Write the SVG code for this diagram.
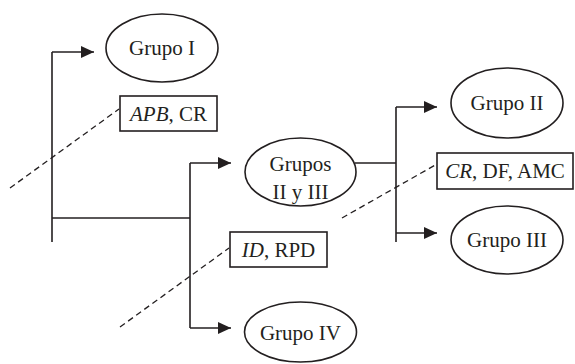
<svg xmlns="http://www.w3.org/2000/svg" width="575" height="364" viewBox="0 0 575 364">
<style>
text{font-family:"Liberation Serif","Times New Roman",serif;font-size:21px;fill:#231f20;text-anchor:middle}
.n{fill:#fff;stroke:#231f20;stroke-width:1.6}
.c{fill:none;stroke:#231f20;stroke-width:1.6}
.d{fill:none;stroke:#231f20;stroke-width:1.3;stroke-dasharray:6 4}
.a{marker-end:url(#ah)}
</style>
<defs>
<marker id="ah" markerWidth="14" markerHeight="12" refX="13" refY="6" orient="auto" markerUnits="userSpaceOnUse">
<path d="M0,0 L13,6 L0,12 Z" fill="#231f20"/>
</marker>
</defs>
<g id="connectors">
<path class="c" d="M52,242 V52"/>
<path class="c a" d="M52,52 H94"/>
<path class="c" d="M52,218 H190"/>
<path class="c" d="M190,163 V328"/>
<path class="c a" d="M190,163 H231"/>
<path class="c a" d="M190,328 H231"/>
<path class="c" d="M355,163 H396"/>
<path class="c" d="M396,107 V242"/>
<path class="c a" d="M396,107 H437"/>
<path class="c a" d="M396,233 H437"/>
<path class="d" d="M10,188 L119,109"/>
<path class="d" d="M120,327 L229,248"/>
<path class="d" d="M342,218 L437,164"/>
</g>
<g id="grupo1"><ellipse class="n" cx="162" cy="48" rx="56" ry="34"/><text x="162" y="55">Grupo I</text></g>
<g id="label-apb"><rect class="n" x="120" y="96" width="97" height="35"/><text x="168.5" y="121"><tspan font-style="italic">APB</tspan>, CR</text></g>
<g id="grupos23"><ellipse class="n" cx="300.5" cy="172" rx="55.5" ry="34"/><text x="300.5" y="171">Grupos</text><text x="300.5" y="199">II y III</text></g>
<g id="grupo2"><ellipse class="n" cx="507" cy="103" rx="56" ry="35"/><text x="507" y="110">Grupo II</text></g>
<g id="label-cr"><rect class="n" x="437" y="153" width="136" height="36"/><text x="505" y="178"><tspan font-style="italic">CR</tspan>, DF, AMC</text></g>
<g id="grupo3"><ellipse class="n" cx="507" cy="240" rx="56" ry="34"/><text x="507" y="247">Grupo III</text></g>
<g id="label-id"><rect class="n" x="230" y="232" width="97" height="35"/><text x="278.5" y="257"><tspan font-style="italic">ID</tspan>, RPD</text></g>
<g id="grupo4"><ellipse class="n" cx="300.5" cy="332" rx="56" ry="30"/><text x="300.5" y="340">Grupo IV</text></g>
</svg>
